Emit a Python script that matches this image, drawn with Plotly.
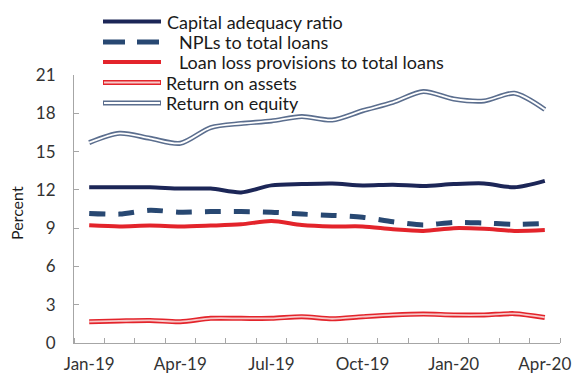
import plotly.graph_objects as go

months = ["Jan-19", "Feb-19", "Mar-19", "Apr-19", "May-19", "Jun-19", "Jul-19", "Aug-19",
          "Sep-19", "Oct-19", "Nov-19", "Dec-19", "Jan-20", "Feb-20", "Mar-20", "Apr-20"]
tick_labels = ["Jan-19", "Apr-19", "Jul-19", "Oct-19", "Jan-20", "Apr-20"]

car = [12.2, 12.2, 12.2, 12.1, 12.1, 11.8, 12.35, 12.45, 12.5, 12.35, 12.4, 12.3, 12.45, 12.5, 12.2, 12.7]
npl = [10.15, 10.1, 10.4, 10.25, 10.3, 10.3, 10.25, 10.1, 10.0, 9.85, 9.5, 9.25, 9.45, 9.4, 9.3, 9.37]
llp = [9.22, 9.13, 9.2, 9.13, 9.2, 9.3, 9.56, 9.24, 9.13, 9.13, 8.91, 8.78, 9.0, 8.95, 8.78, 8.85]
roa = [1.67, 1.73, 1.77, 1.67, 1.93, 1.93, 1.93, 2.06, 1.9, 2.06, 2.2, 2.27, 2.2, 2.2, 2.3, 2.0]
roe = [15.7, 16.43, 16.04, 15.65, 16.88, 17.2, 17.4, 17.74, 17.47, 18.2, 18.86, 19.7, 19.12, 18.97, 19.57, 18.3]

series_names = ["Capital adequacy ratio", "NPLs to total loans", "Loan loss provisions to total loans",
                "Return on assets", "Return on equity"]

x = list(range(len(months)))
tickvals = [months.index(m) for m in tick_labels]

NAVY = "#1c2657"
STEEL = "#284872"
RED = "#e3242b"
PINK = "#f7c9c9"
SLATE = "#5b6e8e"
AXIS = "#a6a6a6"
FONT = "Lato"

fig = go.Figure()
spline = dict(shape="spline", smoothing=0.8)

fig.add_trace(go.Scatter(x=x, y=roe, mode="lines", line=dict(color=SLATE, width=5, **spline), hoverinfo="skip"))
fig.add_trace(go.Scatter(x=x, y=roe, mode="lines", line=dict(color="white", width=1.8, **spline), name=series_names[4]))
fig.add_trace(go.Scatter(x=x, y=car, mode="lines", line=dict(color=NAVY, width=4, **spline), name=series_names[0]))
fig.add_trace(go.Scatter(x=x, y=npl, mode="lines", line=dict(color=STEEL, width=5, dash="16px,13px", **spline), name=series_names[1]))
fig.add_trace(go.Scatter(x=x, y=llp, mode="lines", line=dict(color=RED, width=4, **spline), name=series_names[2]))
fig.add_trace(go.Scatter(x=x, y=roa, mode="lines", line=dict(color=RED, width=5, **spline), hoverinfo="skip"))
fig.add_trace(go.Scatter(x=x, y=roa, mode="lines", line=dict(color=PINK, width=1.8, **spline), name=series_names[3]))

# page body has an 8px margin; work in screen pixels and shift
OFF = 8
FIG_W, FIG_H = 585 - OFF, 377 - OFF
L, R, T, B = 74, 560, 75, 343          # plot area in screen pixels
W, H = R - L, B - T

def px(xs):
    return (xs - L) / W

def py(ys):
    return (B - ys) / H

shapes = []
annotations = []
legend_rows = [
    (series_names[0], 21.5, dict(color=NAVY, width=4), None, 165),
    (series_names[1], 42, dict(color=STEEL, width=5, dash="22px,12px"), None, 177),
    (series_names[2], 62, dict(color=RED, width=4), None, 177),
    (series_names[3], 82.5, dict(color=RED, width=5), PINK, 164),
    (series_names[4], 103, dict(color=SLATE, width=5), "white", 164),
]
for name, yy, ln, inner, tx in legend_rows:
    shapes.append(dict(type="line", xref="paper", yref="paper", x0=px(103), x1=px(161),
                       y0=py(yy), y1=py(yy), line=ln))
    if inner:
        shapes.append(dict(type="line", xref="paper", yref="paper", x0=px(104), x1=px(160),
                           y0=py(yy), y1=py(yy), line=dict(color=inner, width=1.8)))
    annotations.append(dict(text=name, xref="paper", yref="paper", x=px(tx), y=py(yy),
                            xanchor="left", yanchor="middle", showarrow=False,
                            font=dict(family=FONT, size=18, color="#1a1a1a")))

annotations.append(dict(text="Percent", xref="paper", yref="paper", x=px(16), y=py(213),
                        textangle=-90, xanchor="center", yanchor="middle", showarrow=False,
                        font=dict(family=FONT, size=16, color="#1a1a1a")))

fig.update_layout(
    width=FIG_W, height=FIG_H,
    margin=dict(l=L - OFF, r=585 - R, t=T - OFF, b=377 - B, autoexpand=False),
    paper_bgcolor="white", plot_bgcolor="white",
    showlegend=False,
    font=dict(family=FONT, size=17, color="#333333"),
    shapes=shapes, annotations=annotations,
)
fig.update_xaxes(
    range=[-0.5, len(months) - 0.5], tickmode="array", tickvals=tickvals, ticktext=tick_labels,
    ticks="", showline=True, linecolor=AXIS, linewidth=1, showgrid=False, zeroline=False,
    automargin=False, ticklabelstandoff=6,
    tickfont=dict(family=FONT, size=17, color="#333333"),
    minor=dict(tickmode="linear", tick0=-0.5, dtick=1, ticks="inside", ticklen=5, tickcolor=AXIS, showgrid=False),
)
fig.update_yaxes(
    range=[0, 21], tickmode="linear", tick0=0, dtick=3, ticks="inside", ticklen=5, tickcolor=AXIS,
    showline=True, linecolor=AXIS, linewidth=1, showgrid=False, zeroline=False,
    automargin=False, ticklabelstandoff=14,
    tickfont=dict(family=FONT, size=17, color="#333333"),
)

fig.write_html("out.html")
